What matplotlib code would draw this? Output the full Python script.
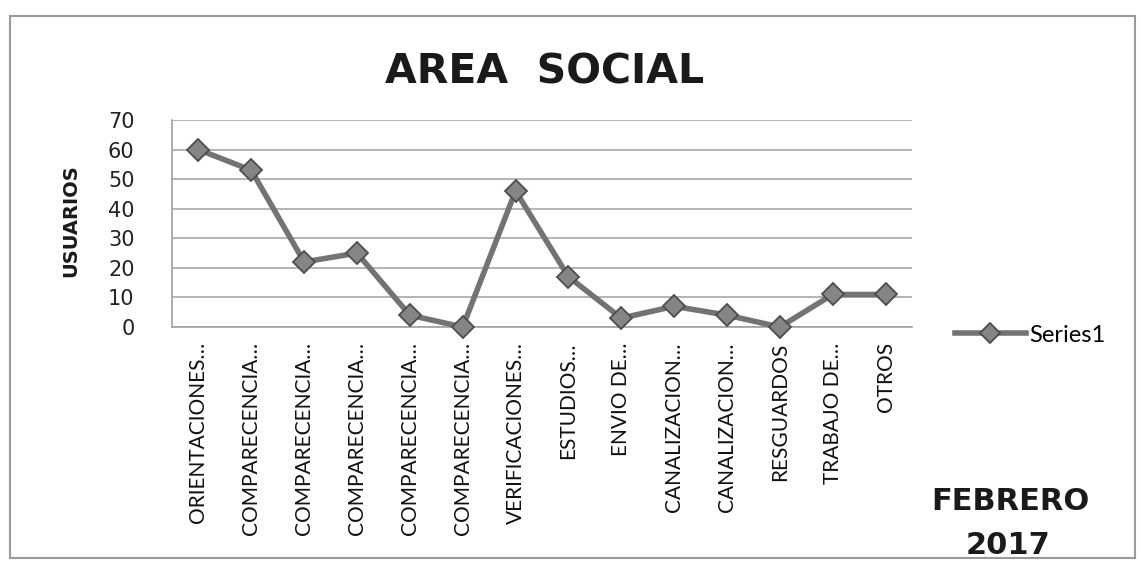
import matplotlib
matplotlib.use("Agg")
import matplotlib.pyplot as plt
from matplotlib.patches import Rectangle

categories = ["ORIENTACIONES…", "COMPARECENCIA…", "COMPARECENCIA…", "COMPARECENCIA…",
              "COMPARECENCIA…", "COMPARECENCIA…", "VERIFICACIONES…", "ESTUDIOS…",
              "ENVIO DE…", "CANALIZACION…", "CANALIZACION…", "RESGUARDOS",
              "TRABAJO DE…", "OTROS"]
values = [60, 53, 22, 25, 4, 0, 46, 17, 3, 7, 4, 0, 11, 11]
yticks = [0, 10, 20, 30, 40, 50, 60, 70]
series_name = "Series1"

W, H = 1143, 567
fig = plt.figure(figsize=(W / 100, H / 100), dpi=100)
fig.patch.set_facecolor("white")

# outer frame
fig.patches.append(Rectangle((10 / W, 1 - 558 / H), (1135 - 10) / W, (558 - 16) / H,
                             transform=fig.transFigure, fill=False,
                             edgecolor="#9a9a9a", linewidth=1.5))

ax = fig.add_axes([172 / W, 1 - 327 / H, (912 - 172) / W, (327 - 120) / H])
x = list(range(len(categories)))
line, = ax.plot(x, values, color="#737373", linewidth=4, marker="D",
                markersize=11, markerfacecolor="#858585", markeredgecolor="#4d4d4d",
                markeredgewidth=1.3, label=series_name, zorder=3, clip_on=False)

ax.set_xlim(-0.5, len(categories) - 0.5)
ax.set_ylim(0, 70)
ax.set_yticks(yticks)
ax.set_yticklabels([str(v) for v in yticks], family="DejaVu Sans", fontsize=15, color="#222222")
ax.set_xticks(x)
ax.set_xticklabels(categories, rotation=90, family="Lato", fontsize=15, color="#111111",
                   ha="center", va="top")
ax.tick_params(axis="both", length=0)
ax.tick_params(axis="y", pad=27)
ax.tick_params(axis="x", pad=11)
for lbl in ax.get_yticklabels():
    lbl.set_horizontalalignment("right")
ax.yaxis.grid(True, color="#a8a8a8", linewidth=1.2)
ax.set_axisbelow(True)
for s in ["top", "right"]:
    ax.spines[s].set_visible(False)
ax.spines["left"].set_color("#a0a0a0")
ax.spines["bottom"].set_color("#a0a0a0")
ax.spines["left"].set_linewidth(1.2)
ax.spines["bottom"].set_linewidth(1.2)

fig.text(545 / W, 1 - 83 / H, "AREA  SOCIAL", ha="center", va="baseline",
         family="DejaVu Sans", fontweight="bold", fontsize=29.5, color="#1a1a1a")
fig.text(71 / W, 1 - 221 / H, "USUARIOS", ha="center", va="center", rotation=90,
         family="DejaVu Sans", fontweight="bold", fontsize=14, color="#1a1a1a")

fig.legend(handles=[line], labels=[series_name], loc="center left",
           bbox_to_anchor=(955 / W, 1 - 335 / H), bbox_transform=fig.transFigure,
           frameon=False, borderpad=0, borderaxespad=0, handlelength=3.0,
           handletextpad=0.15, prop={"family": "Lato", "size": 17}, markerscale=0.9)

fig.text(1010 / W, 1 - 510 / H, "FEBRERO", ha="center", va="baseline",
         family="DejaVu Sans", fontweight="bold", fontsize=22, color="#1a1a1a")
fig.text(1008 / W, 1 - 554 / H, "2017", ha="center", va="baseline",
         family="DejaVu Sans", fontweight="bold", fontsize=22, color="#1a1a1a")

fig.savefig("out.png", dpi=100, facecolor="white")
